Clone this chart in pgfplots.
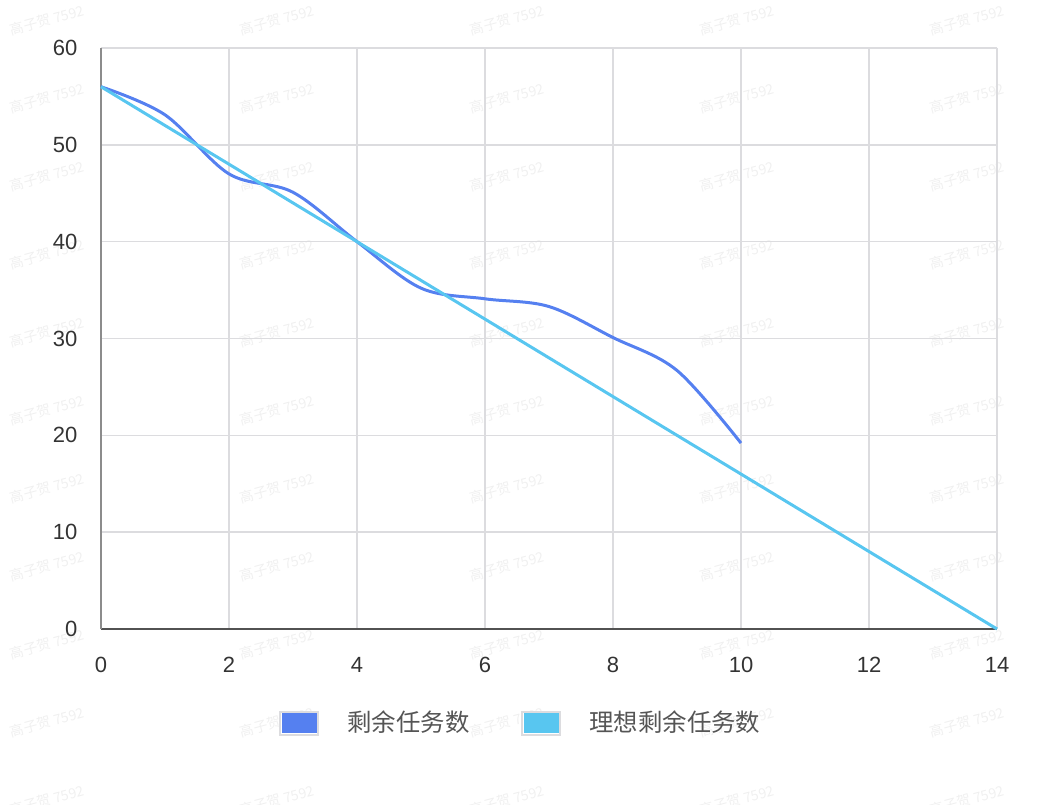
\documentclass[border=0pt]{standalone}
\usepackage{fontspec}
\setmainfont{Liberation Sans}
\newfontfamily\cjk{Noto Sans CJK SC}
\usepackage{pgfplots}
\pgfplotsset{compat=1.18}

\definecolor{realblue}{HTML}{5580F0}
\definecolor{idealcyan}{HTML}{58C6F0}
\definecolor{gridgray}{HTML}{DCDCDF}
\definecolor{ticktext}{HTML}{333333}
\definecolor{legtext}{HTML}{555555}

\begin{document}
\begin{tikzpicture}
\path[use as bounding box] (-50.5pt,-87.5pt) rectangle (471.5pt,314.5pt);
% faint watermark
\foreach \wx in {47,277,507,737,967}{
  \foreach \wy in {20,98,176,254,332,410,488,566,644,722,800}{
    \node[rotate=15, text=black!6, font=\cjk\fontsize{7}{8}\selectfont]
      at ({(\wx-101)*0.5pt},{(629-\wy)*0.5pt}) {高子贺 7592};
  }
}
\begin{axis}[
    at={(0,0)}, anchor=south west,
    scale only axis,
    width=448pt, height=290.5pt,
    xmin=0, xmax=14, ymin=0, ymax=60,
    xtick={0,2,...,14}, ytick={0,10,...,60},
    axis x line=bottom, axis y line=left,
    axis line style={-},
    x axis line style={draw=black!68, line width=0.8pt},
    y axis line style={draw=black!45, line width=0.8pt},
    major tick length=0pt,
    grid=major, grid style={gridgray, line width=0.7pt},
    /pgf/number format/assume math mode=true,
    tick label style={font=\fontsize{11}{13}\selectfont, text=ticktext},
    yticklabel style={xshift=-8.3pt},
    xticklabel style={yshift=-10.5pt},
    legend columns=2,
    legend style={draw=none, fill=none, at={(0.192,-0.162)}, anchor=west,
        font=\cjk\fontsize{12.2}{14}\selectfont, text=legtext,
        /tikz/every odd column/.append style={column sep=14pt},
        /tikz/every even column/.append style={column sep=26pt},
        nodes={inner sep=0pt}},
    legend cell align=left,
    clip=false,
]
\addplot[realblue, line width=1.5pt, smooth, tension=0.55,
    legend image code/.code={
        \draw[gridgray, line width=1pt, fill=white] (0pt,-5.75pt) rectangle (19pt,5.75pt);
        \fill[realblue] (1.5pt,-4.25pt) rectangle (17.5pt,4.25pt);}]
coordinates {(0,56)(1,53.1)(2,47.0)(3,45.1)(4,40)(5,35.2)(6,34.1)(7,33.3)(8,30.1)(9,26.7)(10,19.2)};
\addlegendentry{剩余任务数}
\addplot[idealcyan, line width=1.5pt,
    legend image code/.code={
        \draw[gridgray, line width=1pt, fill=white] (0pt,-5.75pt) rectangle (19pt,5.75pt);
        \fill[idealcyan] (1.5pt,-4.25pt) rectangle (17.5pt,4.25pt);}]
coordinates {(0,56)(14,0)};
\addlegendentry{理想剩余任务数}
\end{axis}
\end{tikzpicture}
\end{document}
